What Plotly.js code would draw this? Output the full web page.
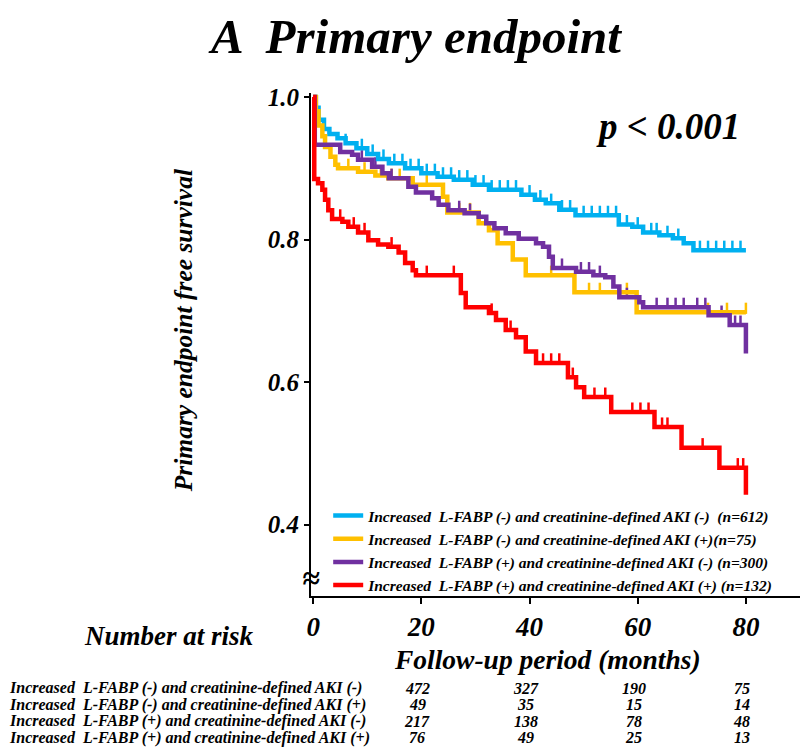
<!DOCTYPE html>
<html>
<head>
<meta charset="utf-8">
<script src="https://cdn.plot.ly/plotly-3.0.1.min.js"></script>
<style>html,body{margin:0;padding:0;background:#fff;}#chart{width:800px;height:751px;}</style>
</head>
<body>
<div id="chart"></div>
<script>
// ---- Data ----
const groupNames = [
  "Increased  L-FABP (-) and creatinine-defined AKI (-)  (n=612)",
  "Increased  L-FABP (-) and creatinine-defined AKI (+)(n=75)",
  "Increased  L-FABP (+) and creatinine-defined AKI (-) (n=300)",
  "Increased  L-FABP (+) and creatinine-defined AKI (+) (n=132)"
];
const riskLabels = [
  "Increased  L-FABP (-) and creatinine-defined AKI (-)",
  "Increased  L-FABP (-) and creatinine-defined AKI (+)",
  "Increased  L-FABP (+) and creatinine-defined AKI (-)",
  "Increased  L-FABP (+) and creatinine-defined AKI (+)"
];
const colors = ["#00B0F0", "#FFC000", "#7030A0", "#FF0000"];

// Kaplan-Meier step points (time in months, survival after the step)
const t1 = [0, 0.5, 1, 2, 3, 4.5, 6, 8, 10, 12, 14, 17, 20, 23, 26, 29.5, 32.5, 38.5, 41, 43, 45.5, 48.5, 56.5, 59, 61, 64, 66.5, 68.5, 70.3, 80];
const s1 = [1.0, 0.985, 0.968, 0.955, 0.948, 0.942, 0.935, 0.928, 0.920, 0.913, 0.907, 0.900, 0.893, 0.888, 0.884, 0.877, 0.870, 0.863, 0.856, 0.851, 0.842, 0.834, 0.821, 0.818, 0.810, 0.806, 0.802, 0.795, 0.785, 0.785];

const t2 = [0, 0.5, 1, 1.7, 2.2, 3.2, 4.1, 4.6, 8.3, 11.5, 13.9, 18.4, 24, 24.8, 30.6, 32.5, 34.1, 36.9, 39.3, 48.3, 59.8, 80];
const s2 = [1.0, 0.98, 0.96, 0.945, 0.930, 0.916, 0.905, 0.900, 0.895, 0.890, 0.886, 0.877, 0.860, 0.838, 0.823, 0.813, 0.795, 0.772, 0.750, 0.726, 0.698, 0.698];

const t3 = [0, 0.3, 5, 7.2, 8.3, 10.9, 12.8, 14, 17.6, 19, 22, 23.2, 25, 28, 30.6, 32, 33.5, 35.6, 38, 41.2, 42.5, 43.6, 44.3, 48.6, 51.8, 54, 55.5, 56.6, 60.3, 61, 73.1, 77, 80, 80];
const s3 = [1.0, 0.933, 0.923, 0.919, 0.912, 0.902, 0.893, 0.886, 0.874, 0.866, 0.858, 0.849, 0.841, 0.837, 0.832, 0.823, 0.816, 0.809, 0.801, 0.795, 0.790, 0.776, 0.760, 0.755, 0.750, 0.747, 0.734, 0.719, 0.712, 0.705, 0.694, 0.680, 0.680, 0.640];

const t4 = [0, 0.2, 0.9, 1.7, 2.2, 2.8, 3.5, 5.4, 6.5, 8.3, 10.2, 12, 13.9, 15.8, 17, 18.4, 19, 27.3, 28.2, 32.5, 33.8, 35.6, 37.5, 39.3, 41.2, 47.1, 48.6, 50.1, 55.1, 63.1, 68.1, 75.1, 80, 80];
const s4 = [1.0, 0.885, 0.879, 0.870, 0.856, 0.841, 0.829, 0.825, 0.818, 0.810, 0.799, 0.793, 0.790, 0.782, 0.767, 0.757, 0.750, 0.725, 0.705, 0.697, 0.687, 0.673, 0.663, 0.643, 0.627, 0.607, 0.593, 0.579, 0.558, 0.537, 0.508, 0.480, 0.480, 0.442];

// censoring times (tick marks)
const c1 = [6, 9, 11, 13, 15, 16.5, 18, 19.5, 21, 22.5, 24, 25.5, 27, 28.5, 30, 31.5, 33, 34.5, 36, 37.5, 40, 42, 44, 46, 47.5, 50, 51.5, 53, 54.5, 56, 58, 60, 62.5, 63.5, 65.5, 67.5, 71.5, 73, 74.5, 76, 77.5, 79];
const c2 = [6.5, 9.5, 12.5, 14.5, 16, 21, 27, 29, 44, 51, 53, 58, 73, 76.5, 80];
const c3 = [9, 11.5, 14.5, 27, 29, 46, 49.5, 51, 53, 58, 63.5, 65.5, 67, 68.5, 71, 72.5, 75.5, 78, 79];
const c4 = [5, 7.5, 9.5, 14.5, 21, 26, 33, 36.5, 42.5, 44, 45.5, 48, 52, 54, 59, 60.5, 62, 64.5, 65.5, 72, 78.5, 79.5];

// number at risk
const riskTimes = [20, 40, 60, 80];
const risk1 = [472, 327, 190, 75];
const risk2 = [49, 35, 15, 14];
const risk3 = [217, 138, 78, 48];
const risk4 = [76, 49, 25, 13];

const xTicks = [0, 20, 40, 60, 80];
const yTicks = [0.4, 0.6, 0.8, 1.0];
const yTickText = ["0.4", "0.6", "0.8", "1.0"];

// ---- Build figure ----
const T = [t1, t2, t3, t4], S = [s1, s2, s3, s4], C = [c1, c2, c3, c4];
const R = [risk1, risk2, risk3, risk4];

function stepAt(ts, ss, t) {
  let v = ss[0];
  for (let i = 0; i < ts.length; i++) { if (ts[i] <= t) v = ss[i]; }
  return v;
}

const FONT = "Liberation Serif, Times New Roman, serif";
const traces = [];
for (let g = 0; g < 4; g++) {
  traces.push({
    x: C[g], y: C[g].map(t => stepAt(T[g], S[g], t)),
    type: "scatter", mode: "markers", showlegend: false, hoverinfo: "skip",
    marker: {symbol: "line-ns", size: 8, angle: 180, standoff: 4, line: {color: colors[g], width: 2.5}, color: colors[g]}
  });
}
for (let g = 0; g < 4; g++) {
  traces.push({
    x: T[g], y: S[g], type: "scatter", mode: "lines", name: groupNames[g],
    line: {shape: "hv", color: colors[g], width: 4.5}
  });
}

// plot area geometry
const L = 310.8, W = 489.2, TOP = 93, H = 503;
const px = v => (v - L) / W;
const py = v => (TOP + H - v) / H;

const rowY = [688, 704.5, 721, 737.5];
const ann = [];
const bi = (size) => ({family: FONT, size: size, color: "#000", weight: "bold", style: "italic"});

ann.push({xref: "paper", yref: "paper", x: px(668), y: py(127), text: "p < 0.001", showarrow: false, font: bi(37), xanchor: "center", yanchor: "middle"});
ann.push({xref: "paper", yref: "paper", x: px(183), y: py(330), text: "Primary endpoint free survival", textangle: -90, showarrow: false, font: bi(25.5), xanchor: "center", yanchor: "middle"});
ann.push({xref: "paper", yref: "paper", x: px(547), y: py(659), text: "Follow-up period (months)", showarrow: false, font: bi(27.5), xanchor: "center", yanchor: "middle"});
ann.push({xref: "paper", yref: "paper", x: px(169), y: py(636), text: "Number at risk", showarrow: false, font: bi(27), xanchor: "center", yanchor: "middle"});
ann.push({xref: "paper", yref: "paper", x: 0, y: py(578), text: "≈", showarrow: false, font: bi(32), xanchor: "center", yanchor: "middle"});
for (let r = 0; r < 4; r++) {
  ann.push({xref: "paper", yref: "paper", x: px(7), y: py(rowY[r]), text: riskLabels[r], showarrow: false, font: bi(16), xanchor: "left", yanchor: "middle"});
  for (let j = 0; j < riskTimes.length; j++) {
    ann.push({xref: "x", yref: "paper", x: riskTimes[j], xshift: -4, y: py(rowY[r]), text: String(R[r][j]), showarrow: false, font: bi(16), xanchor: "center", yanchor: "middle"});
  }
}

const layout = {
  width: 800, height: 751,
  margin: {l: L, r: 800 - L - W, t: TOP, b: 751 - TOP - H, pad: 0},
  paper_bgcolor: "#fff", plot_bgcolor: "#fff",
  showlegend: true,
  title: {text: "A  Primary endpoint", font: bi(49), xref: "container", yref: "container", x: 416 / 800, y: 1 - 36 / 751, xanchor: "center", yanchor: "middle"},
  xaxis: {range: [-0.4, 90], tickvals: xTicks, ticktext: xTicks.map(String), showgrid: false, zeroline: false,
          showline: true, linecolor: "#000", linewidth: 2, ticks: "outside", ticklen: 6, tickwidth: 2, tickcolor: "#000",
          tickfont: bi(27), fixedrange: true},
  yaxis: {range: [0.3, 1.0056], tickvals: yTicks, ticktext: yTickText, showgrid: false, zeroline: false,
          showline: true, linecolor: "#000", linewidth: 2, ticks: "outside", ticklen: 5, tickwidth: 2, tickcolor: "#000",
          tickfont: bi(25), fixedrange: true},
  legend: {x: px(328), y: py(499), xanchor: "left", yanchor: "top", bgcolor: "rgba(255,255,255,0)",
           font: bi(15.5), tracegroupgap: 0, itemwidth: 30},
  annotations: ann
};

Plotly.newPlot("chart", traces, layout, {displayModeBar: false, staticPlot: true});
</script>
</body>
</html>
